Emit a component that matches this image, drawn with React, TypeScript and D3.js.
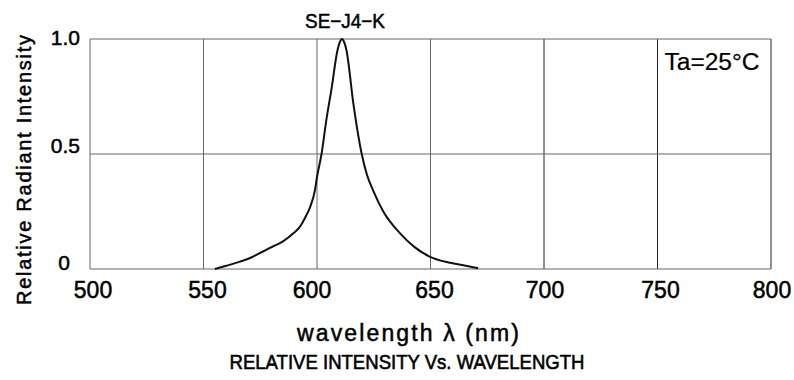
import React from "react";
import * as d3 from "d3";

const wavelengths = [555, 560, 566, 571, 576, 581, 585, 589.6, 592.5, 594.7, 597, 599.1, 600, 602, 604, 606.5, 609, 610, 611, 612, 613, 616, 619.7, 622, 624.8, 629.2, 636.6, 643, 649.8, 658.6, 665, 671];
const intensity = [0, 0.014, 0.032, 0.05, 0.075, 0.1, 0.12, 0.155, 0.184, 0.222, 0.27, 0.343, 0.4, 0.5, 0.64, 0.79, 0.95, 0.985, 1.0, 0.985, 0.95, 0.72, 0.5, 0.41, 0.34, 0.25, 0.155, 0.095, 0.053, 0.027, 0.015, 0.003];
const xTicks = [500, 550, 600, 650, 700, 750, 800];
const yTicks = [0, 0.5, 1.0];
const yTickLabels = ["0", "0.5", "1.0"];

// layout nudges for the hand-placed labels of the original drawing
const xLabelShift = [3, 4, -5, 4, 1, 3, 1];
const yLabelRight = [70, 80, 80];
const yLabelDy = [1, -1, 6];

const FONT = "'Liberation Sans', Arial, sans-serif";

export default function App() {
  const x = d3.scaleLinear().domain([500, 800]).range([90, 771]);
  const y = d3.scaleLinear().domain([0, 1]).range([269, 39]);
  const pts: [number, number][] = wavelengths.map((w, i) => [w, intensity[i]]);
  const line = d3
    .line<[number, number]>()
    .x((d) => x(d[0]))
    .y((d) => y(d[1]))
    .curve(d3.curveMonotoneX);

  const txt = { fill: "#000", stroke: "#000", strokeWidth: 0.5 };

  return (
    <svg
      width={794}
      height={380}
      style={{ position: "absolute", left: 0, top: 0, background: "#fff" }}
      fontFamily={FONT}
    >
      <rect x={0} y={0} width={794} height={380} fill="#fff" />
      {xTicks.map((t) => (
        <line key={"vx" + t} x1={x(t)} x2={x(t)} y1={y(1)} y2={y(0)} stroke={t >= 700 ? "#222" : "#666"} strokeWidth={1} />
      ))}
      {yTicks.map((t) => (
        <line key={"hy" + t} x1={x(500)} x2={x(800)} y1={y(t)} y2={y(t)} stroke="#666" strokeWidth={1} />
      ))}
      <path d={line(pts) || ""} fill="none" stroke="#111" strokeWidth={2} strokeLinejoin="round" />
      {yTicks.map((t, i) => (
        <text key={"yl" + t} x={yLabelRight[i]} y={y(t) + yLabelDy[i]} textAnchor="end" fontSize={21} {...txt}>
          {yTickLabels[i]}
        </text>
      ))}
      {xTicks.map((t, i) => (
        <text key={"xl" + t} x={x(t) + xLabelShift[i]} y={298} textAnchor="middle" fontSize={23} {...txt}>
          {t}
        </text>
      ))}
      <text x={345} y={28} textAnchor="middle" fontSize={21} {...txt} textLength={80} lengthAdjust="spacingAndGlyphs">
        SE−J4−K
      </text>
      <text x={712} y={70} textAnchor="middle" fontSize={23} {...txt} strokeWidth={0.2} textLength={95} lengthAdjust="spacingAndGlyphs">
        Ta=25°C
      </text>
      <text
        transform={`translate(31, 170) rotate(-90)`}
        textAnchor="middle"
        fontSize={20}
        {...txt}
        textLength={270}
        lengthAdjust="spacing"
      >
        Relative Radiant Intensity
      </text>
      <text x={408} y={341} textAnchor="middle" fontSize={23} {...txt} textLength={222} lengthAdjust="spacing">
        wavelength λ (nm)
      </text>
      <text x={407} y={369} textAnchor="middle" fontSize={21} {...txt} strokeWidth={0.6} textLength={355} lengthAdjust="spacingAndGlyphs">
        RELATIVE INTENSITY Vs. WAVELENGTH
      </text>
    </svg>
  );
}
